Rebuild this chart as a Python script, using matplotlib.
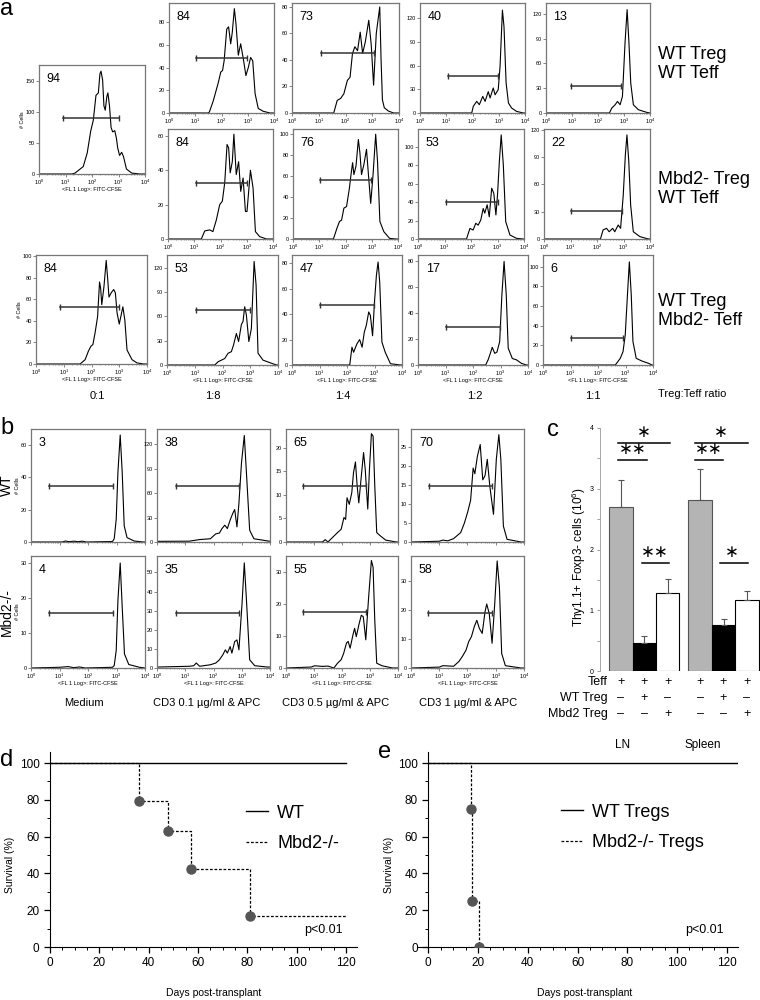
import numpy as np
import matplotlib
matplotlib.use("Agg")
import matplotlib.pyplot as plt
import matplotlib.transforms as transforms
from matplotlib.ticker import MultipleLocator, FixedLocator, LogLocator, NullFormatter

plt.rcParams['font.family'] = ['Liberation Sans', 'DejaVu Sans']
plt.rcParams['mathtext.default'] = 'regular'

# ---------------- data ----------------
# panel a: CFSE histograms, points are (log10 FITC-CFSE, # cells)
a_ratios = ["0:1", "1:8", "1:4", "1:2", "1:1"]
a_rows = ["WT Treg\nWT Teff", "Mbd2- Treg\nWT Teff", "WT Treg\nMbd2- Teff"]
a_pct_row1 = [94, 84, 73, 40, 13]
a_pct_row2 = [84, 76, 53, 22]
a_pct_row3 = [84, 53, 47, 17, 6]

a1_01 = [(0, 0), (1.25, 0), (1.36, 1.5), (1.67, 12), (1.82, 34), (1.95, 69), (2.05, 87), (2.15, 127), (2.24, 131),
         (2.30, 162), (2.34, 166), (2.40, 152), (2.45, 110), (2.50, 103), (2.56, 125), (2.60, 131), (2.66, 110),
         (2.72, 75), (2.78, 68), (2.86, 70), (2.92, 58), (2.97, 42), (3.04, 30), (3.12, 35), (3.19, 28), (3.30, 8),
         (3.50, 1.5), (3.80, 0), (4, 0)]
a1_18 = [(0, 0), (1.50, 0), (1.54, 1), (1.69, 11), (1.88, 27), (1.97, 36), (2.04, 37.5), (2.10, 46), (2.20, 74),
         (2.27, 76), (2.35, 61), (2.41, 71), (2.49, 92), (2.55, 79), (2.64, 51), (2.73, 61), (2.83, 48), (2.93, 33),
         (3.02, 40), (3.11, 49), (3.19, 46), (3.28, 17), (3.40, 4), (3.59, 1.5), (3.85, 0), (4, 0)]
a1_14 = [(0, 0), (1.56, 0), (1.69, 9.5), (1.82, 11), (1.94, 14.6), (2.07, 24.6), (2.17, 27), (2.26, 44.8), (2.35, 50),
         (2.45, 47), (2.55, 61), (2.64, 45), (2.74, 53.6), (2.87, 70), (2.96, 52), (3.05, 21), (3.15, 60), (3.28, 80),
         (3.33, 40), (3.38, 10), (3.45, 4), (3.60, 1.5), (3.80, 0), (4, 0)]
a1_12 = [(0, 0), (1.97, 0), (2.03, 8.4), (2.16, 14.7), (2.26, 10.5), (2.39, 21), (2.48, 14.7), (2.60, 27), (2.67, 19),
         (2.79, 31.6), (2.86, 23), (2.98, 29.5), (3.05, 59), (3.14, 130), (3.20, 109), (3.28, 38), (3.37, 12.6),
         (3.49, 6.3), (3.68, 2), (3.94, 0), (4, 0)]
a1_11 = [(0, 0), (2.44, 0), (2.53, 6), (2.66, 10), (2.75, 14), (2.85, 10), (2.94, 20), (3.04, 85), (3.12, 125),
         (3.19, 85), (3.26, 36), (3.36, 10), (3.55, 4), (3.87, 0.8), (4, 0)]

a2_18 = [(0, 0), (1.27, 0), (1.40, 4.7), (1.59, 5.3), (1.71, 4.3), (1.84, 11), (1.97, 20), (2.07, 22), (2.16, 32.6),
         (2.25, 55), (2.31, 53), (2.37, 38.5), (2.45, 45), (2.51, 61), (2.60, 37.5), (2.69, 45), (2.77, 27.7),
         (2.86, 35.5), (2.95, 16), (3.01, 16), (3.14, 40), (3.24, 29.7), (3.33, 4.3), (3.49, 1.4), (3.75, 0), (4, 0)]
a2_14 = [(0, 0), (1.54, 0), (1.67, 10), (1.77, 16.7), (1.85, 18), (1.94, 29.5), (2.04, 31), (2.15, 48.7), (2.21, 61.5),
         (2.27, 72.8), (2.32, 61.5), (2.40, 69.6), (2.49, 95), (2.55, 82), (2.61, 61.5), (2.70, 71), (2.80, 85.6),
         (2.86, 66), (2.96, 34), (3.05, 61.5), (3.15, 100), (3.22, 74), (3.31, 16.7), (3.46, 7), (3.68, 0.6),
         (3.93, 0), (4, 0)]
a2_12 = [(0, 0), (1.83, 0), (1.96, 11.5), (2.08, 9.7), (2.18, 17), (2.27, 15), (2.37, 20.6), (2.46, 33), (2.52, 28),
         (2.61, 37), (2.69, 24), (2.78, 55), (2.86, 49.5), (2.94, 26), (3.00, 47.6), (3.07, 84), (3.14, 112.6),
         (3.22, 80), (3.31, 18.8), (3.47, 4.3), (3.72, 0.7), (3.97, 0), (4, 0)]
a2_11 = [(0, 0), (2.13, 0), (2.23, 10), (2.36, 11.7), (2.46, 8), (2.59, 11.7), (2.67, 8), (2.80, 15.4), (2.89, 11.7),
         (2.99, 48), (3.07, 92.5), (3.13, 114.5), (3.20, 85), (3.27, 37.4), (3.37, 8), (3.62, 2.6), (3.94, 0), (4, 0)]

a3_01 = [(0, 0), (1.59, 0), (1.77, 4), (1.89, 12), (1.98, 16.5), (2.05, 18), (2.13, 29), (2.22, 44), (2.29, 76),
         (2.33, 70), (2.37, 55), (2.45, 72), (2.53, 96), (2.58, 80), (2.63, 62), (2.71, 66), (2.80, 69), (2.86, 66),
         (2.92, 47.6), (3.00, 37), (3.13, 53), (3.20, 41), (3.28, 13), (3.46, 4), (3.64, 1), (3.88, 0), (4, 0)]
a3_18 = [(0, 0), (1.72, 0), (1.84, 4), (1.96, 6), (2.08, 8), (2.20, 14.5), (2.32, 16.5), (2.40, 25), (2.50, 39),
         (2.58, 29), (2.68, 50), (2.74, 54), (2.80, 72), (2.86, 62), (2.95, 29), (3.04, 45), (3.14, 128), (3.21, 99),
         (3.28, 14.5), (3.46, 6), (3.70, 3), (3.94, 0), (4, 0)]
a3_14 = [(0, 0), (2.10, 0), (2.18, 14), (2.24, 10), (2.36, 16.6), (2.46, 20), (2.55, 14), (2.63, 26), (2.70, 31),
         (2.79, 41.7), (2.85, 39), (2.93, 23), (3.00, 49.6), (3.07, 70.7), (3.13, 81), (3.19, 65), (3.27, 18),
         (3.39, 10), (3.58, 1), (3.94, 0), (4, 0)]
a3_12 = [(0, 0), (2.46, 0), (2.55, 4), (2.63, 9), (2.70, 13.7), (2.79, 9), (2.87, 10), (2.97, 18), (3.05, 54),
         (3.13, 80), (3.21, 54), (3.28, 13), (3.43, 5), (3.58, 4), (3.76, 1.3), (3.94, 0), (4, 0)]
a3_11 = [(0, 0), (2.63, 0), (2.72, 3.4), (2.81, 6.8), (2.91, 13.6), (2.99, 30.5), (3.07, 71), (3.14, 105), (3.21, 71),
         (3.27, 24), (3.39, 6.8), (3.60, 4), (3.84, 1.7), (3.96, 0), (4, 0)]

# gates: (log10 start, log10 end, height)
a_gate_row1 = [(0.92, 3.02, 91), (1.03, 2.96, 48.7), (1.08, 3.06, 45), (1.05, 2.98, 47), (0.97, 2.89, 33)]
a_gate_row2 = [(1.05, 3.01, 32.6), (1.03, 2.99, 56.7), (1.07, 3.00, 40.4), (1.03, 2.93, 30.8)]
a_gate_row3 = [(0.87, 3.00, 53), (1.06, 3.00, 68), (1.00, 2.97, 47), (1.03, 2.97, 29), (1.02, 2.91, 27.8)]

# panel b
b_conds = ["Medium", "CD3 0.1 µg/ml & APC", "CD3 0.5 µg/ml & APC", "CD3 1 µg/ml & APC"]
b_rows = ["WT", "Mbd2-/-"]
b_pct_row1 = [3, 38, 65, 70]
b_pct_row2 = [4, 35, 55, 58]

b1_med = [(0, 0), (1.10, 0), (1.20, 0.6), (1.35, 0.2), (1.50, 0.5), (1.65, 0.2), (1.80, 0.5), (1.95, 0), (2.86, 0.3),
          (2.92, 2), (2.99, 14), (3.05, 43), (3.13, 66), (3.20, 43), (3.27, 10), (3.37, 2.7), (3.62, 0.6), (3.94, 0),
          (4, 0)]
b1_01 = [(0, 0.8), (1.14, 1), (1.51, 3), (1.89, 4), (2.08, 10), (2.21, 11), (2.30, 16.5), (2.40, 20.7), (2.49, 16.5),
         (2.59, 27), (2.68, 35), (2.75, 40), (2.83, 18.6), (2.90, 47.6), (2.99, 97), (3.09, 131), (3.18, 76.5),
         (3.28, 14.5), (3.43, 4), (3.79, 2), (3.97, 1), (4, 1)]
b1_05 = [(0, 0), (1.30, 0), (1.40, 0.5), (1.50, 0), (1.65, 0.9), (1.84, 2), (1.97, 2.7), (2.07, 5.2), (2.13, 4.8),
         (2.18, 9.4), (2.26, 8), (2.35, 10.5), (2.41, 14.7), (2.48, 17), (2.54, 12), (2.60, 8.3), (2.69, 14),
         (2.77, 19), (2.83, 15.4), (2.92, 7), (2.98, 15.4), (3.05, 23), (3.11, 22.5), (3.17, 12), (3.24, 2),
         (3.37, 1.3), (3.56, 0.4), (3.94, 0), (4, 0)]
b1_1 = [(0, 0), (1.00, 0.2), (1.13, 0.5), (1.30, 0.3), (1.51, 0.9), (1.76, 2.5), (1.89, 5), (2.01, 8), (2.11, 11),
        (2.20, 19.5), (2.26, 18), (2.35, 22.6), (2.45, 25.7), (2.54, 16.4), (2.62, 17.5), (2.70, 21.8), (2.79, 14.7),
        (2.92, 7.3), (3.02, 21.8), (3.11, 28.3), (3.18, 21.8), (3.27, 4.2), (3.40, 0.7), (3.90, 0), (4, 0)]
b2_med = [(0, 0), (1.00, 0.2), (1.30, 0.4), (1.50, 0.1), (1.70, 0.3), (1.90, 0), (2.86, 0.2), (2.92, 0.7), (2.99, 5),
          (3.05, 19.3), (3.13, 30), (3.20, 17.5), (3.28, 4), (3.43, 1), (3.81, 0.2), (4, 0)]
b2_01 = [(0, 0.5), (1.14, 0.9), (1.30, 1.2), (1.39, 2.6), (1.51, 0.9), (1.89, 1.7), (2.08, 2.6), (2.21, 4.3),
         (2.33, 6.9), (2.42, 9.5), (2.49, 7.8), (2.59, 11.2), (2.65, 7.8), (2.75, 13.8), (2.83, 14.7), (2.90, 9.5),
         (3.01, 33.6), (3.09, 55), (3.18, 32), (3.28, 4.3), (3.46, 1.2), (3.91, 0.5), (4, 0.5)]
b2_05 = [(0, 0), (0.90, 0.3), (1.02, 0.7), (1.30, 0.5), (1.50, 0.6), (1.71, 0), (1.84, 1.5), (1.97, 2.6), (2.06, 4.6),
         (2.16, 7.8), (2.22, 8.3), (2.29, 6.2), (2.39, 10.3), (2.45, 12.4), (2.51, 9.8), (2.60, 13.4), (2.69, 16.5),
         (2.76, 16), (2.85, 8.8), (2.95, 22), (3.05, 33.6), (3.11, 31.5), (3.17, 15), (3.24, 1.5), (3.43, 0.7),
         (3.81, 0), (4, 0)]
b2_1 = [(0, 0), (1.00, 0.3), (1.13, 0.8), (1.51, 0.6), (1.70, 2.3), (1.82, 4), (1.95, 6.2), (2.04, 9), (2.14, 10.8),
        (2.24, 14.2), (2.33, 16.4), (2.42, 13.6), (2.52, 11.9), (2.62, 19.3), (2.68, 22), (2.77, 18.7), (2.87, 8.5),
        (2.96, 21.5), (3.05, 36.8), (3.13, 27.7), (3.21, 5), (3.34, 0.8), (3.90, 0), (4, 0)]

b_gate_row1 = [(0.63, 2.86, 34.4), (0.66, 2.90, 69), (0.61, 2.86, 12), (0.63, 2.87, 14.7)]
b_gate_row2 = [(0.63, 2.86, 15.8), (0.66, 2.90, 29), (0.61, 2.86, 17.5), (0.60, 2.87, 19)]

# panel c
c_mean = [2.70, 0.46, 1.28, 2.82, 0.76, 1.17]
c_sem = [0.45, 0.11, 0.23, 0.51, 0.10, 0.15]
c_teff = ["+", "+", "+", "+", "+", "+"]
c_wt = ["\u2013", "+", "\u2013", "\u2013", "+", "\u2013"]
c_mbd2 = ["\u2013", "\u2013", "+", "\u2013", "\u2013", "+"]
c_groups = ["LN", "Spleen"]

# panel d / e survival
d_wt_days = [0, 120]
d_wt_surv = [100, 100]
d_ko_days = [0, 36, 47.8, 57.2, 81, 120]
d_ko_surv = [100, 79.5, 63, 42.5, 16.7, 16.7]
e_wt_days = [0, 125]
e_wt_surv = [100, 100]
e_ko_days = [0, 17, 17.8, 20.3]
e_ko_surv = [100, 75, 25, 0]

# ---------------- layout ----------------
W, H = 760, 1000
fig = plt.figure(figsize=(7.6, 10), dpi=100)


def px_axes(x0, y0, x1, y1):
    return fig.add_axes([x0 / W, 1 - y1 / H, (x1 - x0) / W, (y1 - y0) / H])


def ftext(x, y, s, **kw):
    return fig.text(x / W, 1 - y / H, s, **kw)


def histo(box, curve, gate, pct, ytop, ystep, xlab=False, ylab=False, xticks=True):
    ax = px_axes(*box)
    lx, cnt = np.array(curve).T
    ax.plot(10 ** lx, cnt, color='black', lw=0.8)
    g0, g1, gy = gate
    ax.plot([10 ** g0, 10 ** g1], [gy, gy], color='#333333', lw=1.1, marker='|', ms=4, mew=1.0)
    ax.set_xscale('log')
    ax.set_xlim(1, 1e4)
    ax.set_ylim(0, ytop)
    ax.yaxis.set_major_locator(MultipleLocator(ystep))
    ax.xaxis.set_major_locator(FixedLocator([1, 10, 100, 1000, 10000]))
    ax.xaxis.set_minor_locator(LogLocator(subs=np.arange(2, 10)))
    ax.xaxis.set_minor_formatter(NullFormatter())
    ax.tick_params(axis='both', which='major', labelsize=4, length=2, width=0.5, pad=1, color='#555555')
    ax.tick_params(axis='x', which='minor', length=1, width=0.4, color='#555555')
    if not xticks:
        ax.set_xticklabels([])
    for s in ax.spines.values():
        s.set_color('#777777')
        s.set_linewidth(0.9)
    ax.text(0.07, 0.93, str(pct), transform=ax.transAxes, va='top', ha='left', fontsize=9)
    if xlab:
        ax.set_xlabel('<FL 1 Log>: FITC-CFSE', fontsize=4, labelpad=0)
    if ylab:
        ax.set_ylabel('# Cells', fontsize=4, labelpad=0.5)
    return ax


# panel a
a_box_row1 = [(39, 65, 145, 174), (169, 3, 274, 113), (292, 3, 399, 113), (420, 3, 525, 113), (546, 3, 650, 113)]
a_box_row2 = [(168, 129, 273, 239), (293, 129, 398, 239), (418, 129, 524, 239), (544, 129, 650, 239)]
a_box_row3 = [(36, 255, 147, 364), (167, 255, 278, 365), (292, 255, 402, 365), (418, 255, 528, 365),
              (543, 255, 653, 365)]
a_yaxis_row1 = [(176, 50), (97, 20), (83, 20), (139, 30), (133, 30)]
a_yaxis_row2 = [(64, 20), (105, 20), (119, 20), (121, 30)]
a_yaxis_row3 = [(101, 20), (136, 30), (86.5, 20), (85, 20), (112, 20)]

for i, c in enumerate([a1_01, a1_18, a1_14, a1_12, a1_11]):
    histo(a_box_row1[i], c, a_gate_row1[i], a_pct_row1[i], *a_yaxis_row1[i], xlab=(i == 0), ylab=(i == 0))
for i, c in enumerate([a2_18, a2_14, a2_12, a2_11]):
    histo(a_box_row2[i], c, a_gate_row2[i], a_pct_row2[i], *a_yaxis_row2[i])
for i, c in enumerate([a3_01, a3_18, a3_14, a3_12, a3_11]):
    histo(a_box_row3[i], c, a_gate_row3[i], a_pct_row3[i], *a_yaxis_row3[i], xlab=True, ylab=(i == 0))

for lab, y in zip(a_rows, [64, 189, 311]):
    ftext(658, y, lab, fontsize=13, va='center', ha='left', linespacing=1.15)
for lab, x in zip(a_ratios, [97, 213, 343, 475, 593]):
    ftext(x, 396, lab, fontsize=8, ha='center', va='center')
ftext(658, 394, "Treg:Teff ratio", fontsize=8, ha='left', va='center')

# panel b
b_xs = [(31, 145), (157, 270), (286, 398), (411, 524)]
b_ys = [(429, 542), (556, 668)]
b_yaxis_row1 = [(69.7, 20), (139, 30), (24, 5), (29.8, 5)]
b_yaxis_row2 = [(32, 10), (58.6, 10), (35, 10), (38.5, 10)]
for i, c in enumerate([b1_med, b1_01, b1_05, b1_1]):
    box = (b_xs[i][0], b_ys[0][0], b_xs[i][1], b_ys[0][1])
    histo(box, c, b_gate_row1[i], b_pct_row1[i], *b_yaxis_row1[i], ylab=(i == 0), xticks=False)
for i, c in enumerate([b2_med, b2_01, b2_05, b2_1]):
    box = (b_xs[i][0], b_ys[1][0], b_xs[i][1], b_ys[1][1])
    histo(box, c, b_gate_row2[i], b_pct_row2[i], *b_yaxis_row2[i], xlab=True, ylab=(i == 0))
for lab, x in zip(b_conds, [84, 207, 336, 468]):
    ftext(x, 703, lab, fontsize=8, ha='center', va='center')
for lab, y in zip(b_rows, [485, 612]):
    ftext(7, y, lab, fontsize=10, rotation=90, ha='center', va='center')

# panel c
axc = px_axes(600, 428, 760, 671)
c_x = np.array([0, 1, 2, 3.39, 4.39, 5.39])
c_col = ['#b4b4b4', 'black', 'white', '#b4b4b4', 'black', 'white']
c_edge = ['#555555', 'black', 'black', '#555555', 'black', 'black']
axc.bar(c_x, c_mean, width=1.0, color=c_col, edgecolor=c_edge, linewidth=0.8)
axc.errorbar(c_x, c_mean, yerr=[np.zeros(6), c_sem], fmt='none', ecolor='#555555', elinewidth=0.8,
             capsize=2.5, capthick=0.8)
axc.set_xlim(-0.89, 5.95)
axc.set_ylim(0, 4)
axc.yaxis.set_major_locator(MultipleLocator(1))
axc.yaxis.set_minor_locator(MultipleLocator(0.5))
axc.tick_params(axis='y', which='major', labelsize=5, length=2.5, width=0.5, pad=2, color='#777777')
axc.tick_params(axis='y', which='minor', length=2.5, width=0.5, color='#777777')
axc.set_xticks([])
for s in ['top', 'right', 'bottom']:
    axc.spines[s].set_visible(False)
axc.spines['left'].set_color('#999999')
axc.spines['left'].set_linewidth(0.6)
axc.patch.set_alpha(0)
ftext(579, 557, "Thy1.1+ Foxp3- cells (10$^6$)", fontsize=8.5, rotation=90, ha='center', va='center')

sig = [(-0.11, 2.12, 3.75, 1.0, "\u2217"), (-0.11, 1.13, 3.47, 0.53, "\u2217\u2217"),
       (3.19, 5.42, 3.75, 4.26, "\u2217"), (3.19, 4.35, 3.47, 3.75, "\u2217\u2217"),
       (0.92, 2.07, 1.77, 1.47, "\u2217\u2217"), (4.22, 5.42, 1.77, 4.76, "\u2217")]
for x0, x1, y, xt, s in sig:
    axc.plot([x0, x1], [y, y], color='black', lw=1.1, clip_on=False)
    axc.text(xt, y + 0.04, s, ha='center', va='bottom', fontsize=12, family='DejaVu Sans', clip_on=False)

tr = transforms.blended_transform_factory(axc.transData, fig.transFigure)
for lab, signs, y in zip(["Teff", "WT Treg", "Mbd2 Treg"], [c_teff, c_wt, c_mbd2], [682, 698, 714]):
    ftext(608, y, lab, fontsize=9, ha='right', va='center')
    for xx, s in zip(c_x, signs):
        axc.text(xx, 1 - y / H, s, transform=tr, fontsize=9, ha='center', va='center')
for lab, x in zip(c_groups, [623, 703]):
    ftext(x, 745, lab, fontsize=8.5, ha='center', va='center')


# panels d and e
def survival(ax, wt_d, wt_s, ko_d, ko_s, names, leg_xy, xmin):
    ax.plot(wt_d, wt_s, color='black', lw=1.0, label=names[0])
    ax.plot(ko_d, ko_s, color='black', lw=0.9, ls=(0, (2.2, 1.4)), drawstyle='steps-post', label=names[1])
    n = len(ko_d) - (1 if ko_d[-1] >= 100 else 0)
    ax.plot(ko_d[1:n], ko_s[1:n], ls='none', marker='o', ms=6.5, color='#555555', zorder=3)
    ax.set_xlim(xmin, 124.5)
    ax.set_ylim(0, 106)
    ax.xaxis.set_major_locator(MultipleLocator(20))
    ax.xaxis.set_minor_locator(MultipleLocator(5))
    ax.yaxis.set_major_locator(MultipleLocator(20))
    ax.yaxis.set_minor_locator(MultipleLocator(10))
    ax.tick_params(which='major', labelsize=8.5, length=4, width=0.9)
    ax.tick_params(which='minor', length=2, width=0.7)
    ax.spines['top'].set_visible(False)
    ax.spines['right'].set_visible(False)
    ax.spines['left'].set_position(('data', 0))
    ax.text(0.955, 0.087, "p<0.01", transform=ax.transAxes, ha='right', va='center', fontsize=9)
    ax.legend(loc='upper left', bbox_to_anchor=leg_xy, frameon=False, fontsize=13, handlelength=1.2,
              handletextpad=0.5, labelspacing=0.75, borderpad=0, borderaxespad=0)


axd = px_axes(50, 752, 357, 947)
survival(axd, d_wt_days, d_wt_surv, d_ko_days, d_ko_surv, ["WT", "Mbd2-/-"], (0.64, 0.73), 0)
axe = px_axes(417, 752, 738, 947)
survival(axe, e_wt_days, e_wt_surv, e_ko_days, e_ko_surv, ["WT Tregs", "Mbd2-/- Tregs"], (0.45, 0.735), -4.5)

ftext(214, 993, "Days post-transplant", fontsize=7.5, ha='center', va='center')
ftext(585, 993, "Days post-transplant", fontsize=7.5, ha='center', va='center')
ftext(10, 865, "Survival (%)", fontsize=7.5, rotation=90, ha='center', va='center')
ftext(389, 865, "Survival (%)", fontsize=7.5, rotation=90, ha='center', va='center')

# panel letters
for lab, x, y in [("a", 0, 9), ("b", 0, 428), ("c", 547, 430), ("d", 0, 760), ("e", 378, 752)]:
    ftext(x, y, lab, fontsize=17, ha='left', va='center')

fig.savefig("out.png", dpi=100)
